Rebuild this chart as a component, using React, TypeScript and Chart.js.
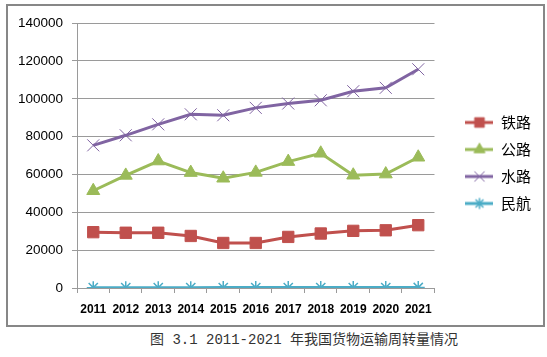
import React, { useEffect, useRef } from "react";
import { Chart, registerables } from "chart.js";
import { drawPoint } from "chart.js/helpers";

Chart.register(...registerables);

const years = ["2011", "2012", "2013", "2014", "2015", "2016", "2017", "2018", "2019", "2020", "2021"];
const railway = [29500, 29200, 29200, 27500, 23800, 23800, 27000, 28800, 30200, 30500, 33200];
const highway = [51400, 59500, 67100, 61000, 58000, 61100, 66800, 71200, 59600, 60200, 69100];
const waterway = [75400, 80700, 86500, 91800, 91300, 95200, 97500, 99200, 104000, 105800, 115600];
const aviation = [174, 164, 170, 188, 208, 223, 244, 263, 263, 240, 278];
const seriesNames = ["铁路", "公路", "水路", "民航"];
const caption = "图 3.1 2011-2021 年我国货物运输周转量情况";

const RED = "#C0504D";
const GREEN = "#9BBB59";
const PURPLE = "#8064A2";
const BLUE = "#4BACC6";
const GRID = "#9a9a9a";

type Sty = { color: string; style: string; radius: number; bw: number };
const styles: Sty[] = [
  { color: RED, style: "rect", radius: 8, bw: 1 },
  { color: GREEN, style: "triangle", radius: 7.5, bw: 1 },
  { color: PURPLE, style: "crossRot", radius: 8.5, bw: 1 },
  { color: BLUE, style: "star", radius: 6.5, bw: 1.5 },
];

const ICON_W = 28;

function makeIcon(s: Sty) {
  const c = document.createElement("canvas");
  c.width = ICON_W;
  c.height = 16;
  const ctx = c.getContext("2d")!;
  ctx.strokeStyle = s.color;
  ctx.lineWidth = 3;
  ctx.beginPath();
  ctx.moveTo(0, 8);
  ctx.lineTo(ICON_W, 8);
  ctx.stroke();
  ctx.fillStyle = s.color;
  ctx.strokeStyle = s.color;
  ctx.lineWidth = s.bw;
  drawPoint(ctx, { pointStyle: s.style as any, radius: s.radius * 0.85, rotation: 0, borderWidth: s.bw }, ICON_W / 2, 8);
  return c;
}

export default function App() {
  const ref = useRef<HTMLCanvasElement>(null);
  useEffect(() => {
    const icons = styles.map(makeIcon);
    const data = [railway, highway, waterway, aviation];
    const chart = new Chart(ref.current!, {
      type: "line",
      data: {
        labels: years,
        datasets: data.map((d, i) => ({
          label: seriesNames[i],
          data: d,
          borderColor: styles[i].color,
          backgroundColor: styles[i].color,
          borderWidth: 3,
          pointStyle: styles[i].style as any,
          pointRadius: styles[i].radius,
          pointBorderWidth: styles[i].bw,
          pointBorderColor: styles[i].color,
          pointBackgroundColor: styles[i].color,
          tension: 0,
        })),
      },
      options: {
        animation: false,
        responsive: false,
        maintainAspectRatio: false,
        layout: { padding: { top: 15, bottom: 0, left: 0, right: 2 } },
        plugins: {
          tooltip: { enabled: false },
          title: { display: false },
          legend: {
            position: "right",
            align: "start",
            title: { display: true, text: " ", font: { size: 10 }, padding: { top: 70, bottom: 0 } },
            labels: {
              usePointStyle: true,
              pointStyleWidth: ICON_W,
              padding: 12,
              color: "#000",
              font: { family: "'Noto Sans CJK SC'", size: 15 },
              generateLabels: (ch: any) => {
                const items = Chart.defaults.plugins.legend.labels.generateLabels(ch);
                return items.map((it: any, i: number) => ({ ...it, pointStyle: icons[i] }));
              },
            },
          },
        },
        scales: {
          x: {
            offset: true,
            grid: { drawOnChartArea: false, drawTicks: true, tickLength: 5, color: GRID, offset: true },
            border: { color: GRID, width: 1 },
            ticks: {
              color: "#000",
              padding: 9,
              autoSkip: false,
              maxRotation: 0,
              font: { family: "'Liberation Sans', Arial", size: 12, weight: "bold" },
            },
            afterFit: (s: any) => {
              s.height = 37;
            },
          },
          y: {
            min: 0,
            max: 140000,
            grid: { color: GRID, tickLength: 5, drawTicks: true },
            border: { color: GRID, width: 1 },
            ticks: {
              stepSize: 20000,
              color: "#000",
              padding: 9,
              font: { family: "'Liberation Sans', Arial", size: 13.5 },
              callback: (v: any) => String(v),
            },
            afterFit: (s: any) => {
              s.width = 69;
            },
          },
          pad: {
            position: "right",
            display: true,
            grid: { display: false },
            border: { display: false },
            ticks: { display: false },
            afterFit: (s: any) => {
              s.width = 19;
            },
          },
        },
      } as any,
    });
    return () => chart.destroy();
  }, []);

  return (
    <div style={{ position: "absolute", left: 0, top: 0, width: 547, height: 357, background: "#fff" }}>
      <div
        style={{
          position: "absolute",
          left: 6,
          top: 4,
          width: 539,
          height: 323,
          boxSizing: "border-box",
          border: "2px solid #878787",
        }}
      />
      <canvas ref={ref} width={535} height={319} style={{ position: "absolute", left: 8, top: 6, width: 535, height: 319 }} />
      <div
        style={{
          position: "absolute",
          left: 0,
          width: 608,
          top: 331,
          textAlign: "center",
          fontFamily: "'Liberation Mono','Noto Sans CJK SC'",
          fontSize: 14,
          lineHeight: "18px",
          color: "#333",
          whiteSpace: "nowrap",
        }}
      >
        {caption}
      </div>
    </div>
  );
}
